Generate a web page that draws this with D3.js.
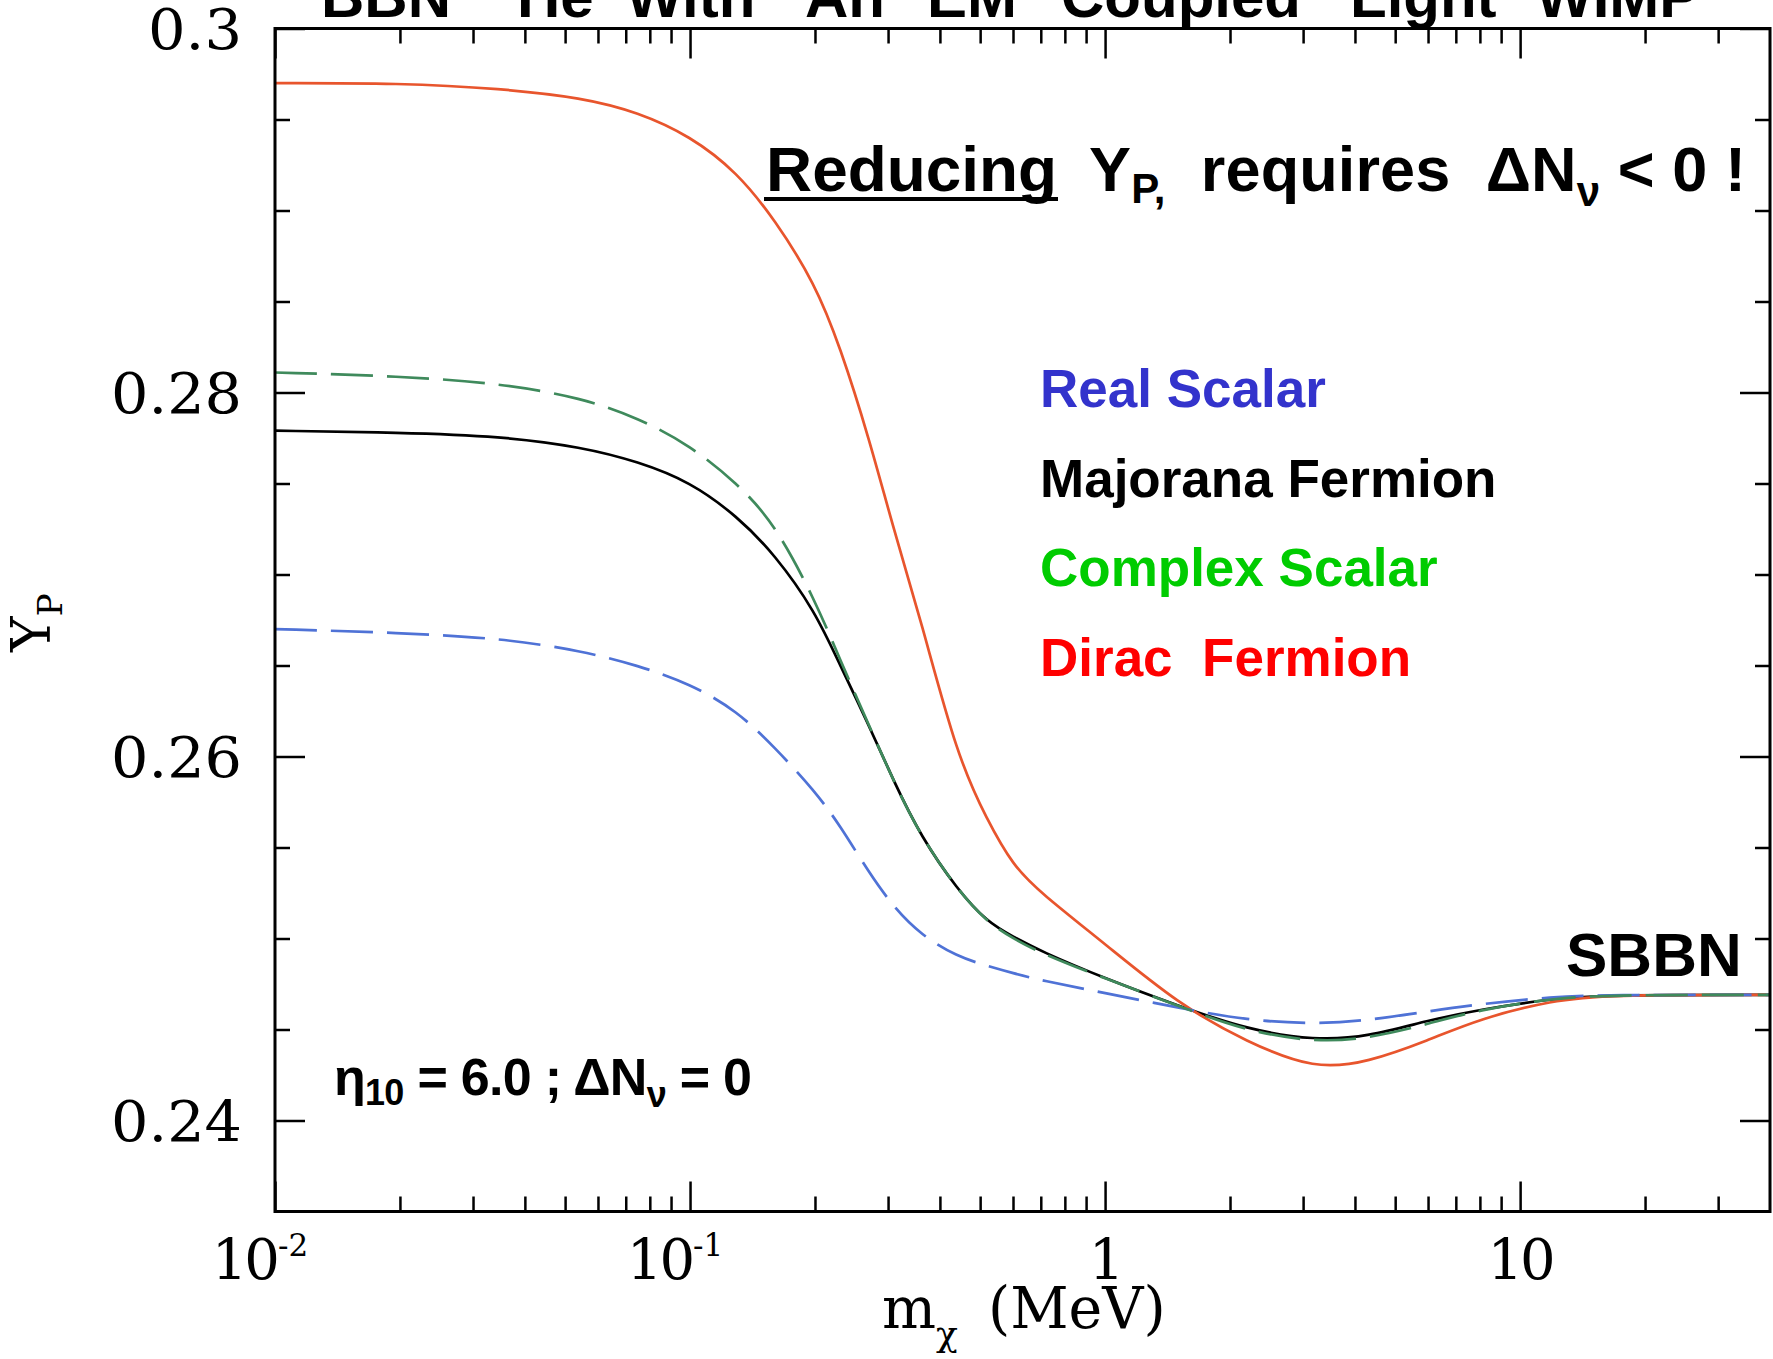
<!DOCTYPE html>
<html>
<head>
<meta charset="utf-8">
<script src="https://cdn.jsdelivr.net/npm/d3@7"></script>
<style>
  body { margin: 0; background: #fff; }
  svg { display: block; }
  .bold { font-family: "Liberation Sans", Arial, sans-serif; font-weight: bold; }
  .serif { font-family: "DejaVu Serif", serif; }
</style>
</head>
<body>
<svg></svg>
<script>
// masses in MeV, shared by all four curves
var mass = [0.01, 0.02, 0.035, 0.055, 0.075, 0.1, 0.13, 0.16, 0.2, 0.23, 0.27, 0.31, 0.36, 0.44, 0.52, 0.6, 0.7, 1, 1.5, 2.2, 3.2, 4.3, 6, 8, 12, 16, 40];

var ypDirac    = [0.2970, 0.2970, 0.2967, 0.2962, 0.2954, 0.2941, 0.2921, 0.2895, 0.2860, 0.2825, 0.2775, 0.2724, 0.2675, 0.2600, 0.2565, 0.2540, 0.2525, 0.2497, 0.2464, 0.2443, 0.2428, 0.2432, 0.2444, 0.2456, 0.2466, 0.2469, 0.2469];
var ypMajorana = [0.2779, 0.2778, 0.2776, 0.2770, 0.2762, 0.2751, 0.2732, 0.2711, 0.2680, 0.2650, 0.2617, 0.2586, 0.2556, 0.2527, 0.2509, 0.2501, 0.2493, 0.2478, 0.2463, 0.2450, 0.2444, 0.2446, 0.2455, 0.2461, 0.2467, 0.2469, 0.2469];
var ypComplex  = [0.2811, 0.2809, 0.2805, 0.2797, 0.2786, 0.2771, 0.2750, 0.2728, 0.2686, 0.2653, 0.2617, 0.2586, 0.2556, 0.2527, 0.2509, 0.2500, 0.2492, 0.2478, 0.2463, 0.2449, 0.2443, 0.2445, 0.2453, 0.2461, 0.2467, 0.2469, 0.2469];
var ypReal     = [0.2670, 0.2668, 0.2665, 0.2658, 0.2650, 0.2640, 0.2625, 0.2605, 0.2581, 0.2562, 0.2536, 0.2517, 0.2502, 0.2490, 0.2485, 0.2481, 0.2477, 0.2470, 0.2462, 0.2455, 0.2453, 0.2455, 0.2460, 0.2464, 0.2468, 0.2469, 0.2469];

var legendNames = ["Real Scalar", "Majorana Fermion", "Complex Scalar", "Dirac  Fermion"];
var legendColors = ["#3333cc", "#000000", "#00cc00", "#ff0000"];

var xMajor = [0.01, 0.1, 1, 10];
var xMajorLabels = [["10", "-2"], ["10", "-1"], ["1", ""], ["10", ""]];
var yMajor = [0.24, 0.26, 0.28, 0.30];
var yMajorLabels = ["0.24", "0.26", "0.28", "0.3"];

var w = 1773, h = 1359;
var pLeft = 275, pRight = 1770, pTop = 28.5, pBottom = 1211.5;

var svg = d3.select("svg").attr("width", w).attr("height", h);

var x = d3.scaleLog().domain([0.01, 40]).range([pLeft, pRight]);
var y = d3.scaleLinear().domain([0.235, 0.3]).range([pBottom, pTop]);

// minor ticks
var xMinor = [];
[0.01, 0.1, 1, 10].forEach(function (d) {
    for (var k = 2; k <= 9; k++) { if (d * k < 40) xMinor.push(d * k); }
});
var yMinor = d3.range(0.245, 0.2999, 0.005).filter(function (v) {
    return Math.abs(v * 50 - Math.round(v * 50)) > 1e-6;
});

function tickAxis(axis, tr) {
    var g = svg.append("g").attr("transform", tr).call(axis);
    g.select(".domain").remove();
    g.selectAll("line").attr("stroke", "#000").attr("stroke-width", 2.5);
    g.selectAll("text").remove();
    return g;
}

tickAxis(d3.axisBottom(x).tickValues(xMinor).tickSize(-15), "translate(0," + pBottom + ")");
tickAxis(d3.axisBottom(x).tickValues(xMajor).tickSize(-30), "translate(0," + pBottom + ")");
tickAxis(d3.axisTop(x).tickValues(xMinor).tickSize(-15), "translate(0," + pTop + ")");
tickAxis(d3.axisTop(x).tickValues(xMajor).tickSize(-30), "translate(0," + pTop + ")");
tickAxis(d3.axisLeft(y).tickValues(yMinor).tickSize(-15), "translate(" + pLeft + ",0)");
tickAxis(d3.axisLeft(y).tickValues(yMajor).tickSize(-30), "translate(" + pLeft + ",0)");
tickAxis(d3.axisRight(y).tickValues(yMinor).tickSize(-15), "translate(" + pRight + ",0)");
tickAxis(d3.axisRight(y).tickValues(yMajor).tickSize(-30), "translate(" + pRight + ",0)");

// curves
var line = d3.line()
    .x(function (d) { return x(d[0]); })
    .y(function (d) { return y(d[1]); })
    .curve(d3.curveBasis);

var series = [
    { vals: ypMajorana, color: "#000000", dash: null },
    { vals: ypDirac, color: "#e8552d", dash: null },
    { vals: ypReal, color: "#4f72d6", dash: "42,14" },
    { vals: ypComplex, color: "#3f8a5c", dash: "42,14" }
];

svg.append("g").selectAll("path")
    .data(series)
    .enter().append("path")
    .attr("d", function (s) { return line(mass.map(function (m, i) { return [m, s.vals[i]]; })); })
    .attr("fill", "none")
    .attr("stroke", function (s) { return s.color; })
    .attr("stroke-width", 2.7)
    .attr("stroke-dasharray", function (s) { return s.dash; });

// frame
svg.append("rect")
    .attr("x", pLeft).attr("y", pTop)
    .attr("width", pRight - pLeft).attr("height", pBottom - pTop)
    .attr("fill", "none").attr("stroke", "#000").attr("stroke-width", 3);

// y tick labels
svg.append("g").selectAll("text")
    .data(yMajor)
    .enter().append("text")
    .attr("class", "serif")
    .attr("x", pLeft - 33)
    .attr("y", function (d) { return y(d); })
    .attr("dy", "0.36em")
    .attr("text-anchor", "end")
    .attr("font-size", 56)
    .attr("textLength", function (d, i) { return yMajorLabels[i].length === 4 ? 131 : 94; })
    .attr("lengthAdjust", "spacingAndGlyphs")
    .text(function (d, i) { return yMajorLabels[i]; });

// x tick labels: base "10" ends at the tick, exponent follows
var xl = svg.append("g").selectAll("g")
    .data(xMajor)
    .enter().append("g");
xl.append("text")
    .attr("class", "serif")
    .attr("x", function (d, i) { return xMajorLabels[i][1] ? x(d) + 2 : x(d); })
    .attr("y", 1279)
    .attr("text-anchor", function (d, i) { return xMajorLabels[i][1] ? "end" : "middle"; })
    .attr("font-size", 56)
    .attr("letter-spacing", -3)
    .text(function (d, i) { return xMajorLabels[i][0]; });
xl.append("text")
    .attr("class", "serif")
    .attr("x", function (d) { return x(d) + 3; })
    .attr("y", 1256)
    .attr("font-size", 31)
    .text(function (d, i) { return xMajorLabels[i][1]; });

// axis titles
var xt = svg.append("text").attr("class", "serif")
    .attr("x", 882).attr("y", 1328).attr("font-size", 57)
    .attr("xml:space", "preserve");
xt.append("tspan").text("m");
xt.append("tspan").attr("dy", 18).attr("font-size", 36).text("\u03c7");
xt.append("tspan").attr("dy", -18).attr("dx", 12).text(" (MeV)");

var yt = svg.append("text").attr("class", "serif")
    .attr("transform", "translate(50,652) rotate(-90)")
    .attr("font-size", 54);
yt.append("tspan").text("Y");
yt.append("tspan").attr("dy", 12).attr("font-size", 34).text("P");

// title (top is cut off in the original)
var titleWords = [["BBN", 321], ["He", 517], ["With", 626], ["An", 805], ["EM", 927], ["Coupled", 1061], ["Light", 1350], ["WIMP", 1536]];
svg.append("g").selectAll("text")
    .data(titleWords)
    .enter().append("text")
    .attr("class", "bold")
    .attr("x", function (d) { return d[1]; })
    .attr("y", 17)
    .attr("font-size", 60)
    .text(function (d) { return d[0]; });
svg.append("text").attr("class", "bold").attr("x", 492).attr("y", -12).attr("font-size", 38).text("4");

// annotation
svg.append("text").attr("class", "bold")
    .attr("x", 766).attr("y", 191).attr("font-size", 63)
    .attr("textLength", 291).attr("lengthAdjust", "spacingAndGlyphs")
    .text("Reducing");
svg.append("line")
    .attr("x1", 764).attr("x2", 1058).attr("y1", 199).attr("y2", 199)
    .attr("stroke", "#000").attr("stroke-width", 4);

var ann = svg.append("text").attr("class", "bold")
    .attr("x", 1089).attr("y", 191).attr("font-size", 63)
    .attr("xml:space", "preserve")
    .attr("textLength", 657).attr("lengthAdjust", "spacing");
ann.append("tspan").text("Y");
ann.append("tspan").attr("dy", 12).attr("font-size", 42).text("P,");
ann.append("tspan").attr("dy", -12).text("  requires  \u0394N");
ann.append("tspan").attr("dy", 15).attr("font-size", 42).text("\u03bd");
ann.append("tspan").attr("dy", -15).text(" < 0 !");

// legend
svg.append("g").selectAll("text")
    .data(legendNames)
    .enter().append("text")
    .attr("class", "bold")
    .attr("x", 1040)
    .attr("y", function (d, i) { return 407 + i * 89.6; })
    .attr("font-size", 53)
    .attr("fill", function (d, i) { return legendColors[i]; })
    .attr("xml:space", "preserve")
    .text(function (d) { return d; });

svg.append("text").attr("class", "bold")
    .attr("x", 1566).attr("y", 976).attr("font-size", 62)
    .text("SBBN");

var eta = svg.append("text").attr("class", "bold")
    .attr("x", 334).attr("y", 1095).attr("font-size", 52)
    .attr("xml:space", "preserve")
    .attr("textLength", 418).attr("lengthAdjust", "spacing");
eta.append("tspan").text("\u03b7");
eta.append("tspan").attr("dy", 10).attr("font-size", 36).text("10");
eta.append("tspan").attr("dy", -10).text(" = 6.0 ; \u0394N");
eta.append("tspan").attr("dy", 12).attr("font-size", 36).text("\u03bd");
eta.append("tspan").attr("dy", -12).text(" = 0");
</script>
</body>
</html>
